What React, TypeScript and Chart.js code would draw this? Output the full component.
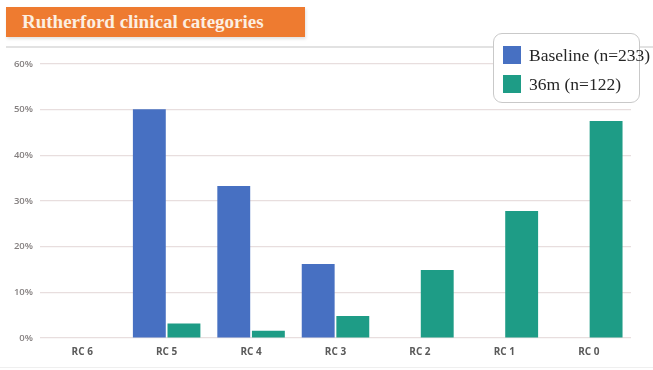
import React, { useEffect, useRef } from "react";
import { Chart, registerables } from "chart.js";

Chart.register(...registerables);

const categories = ["RC 6", "RC 5", "RC 4", "RC 3", "RC 2", "RC 1", "RC 0"];
const baselineValues = [0, 50.1, 33.3, 16.2, 0, 0, 0];
const month36Values = [0, 3.2, 1.6, 4.8, 14.9, 27.8, 47.5];
const seriesNames = ["Baseline (n=233)", "36m (n=122)"];
const seriesColors = ["#4770C2", "#1E9C86"];
const yTicks = [0, 10, 20, 30, 40, 50, 60];
const titleText = "Rutherford clinical categories";

export default function App() {
  const canvasRef = useRef<HTMLCanvasElement | null>(null);

  useEffect(() => {
    document.body.style.margin = "0";
    const canvas = canvasRef.current;
    if (!canvas) return;
    const chart = new Chart(canvas, {
      type: "bar",
      data: {
        labels: categories,
        datasets: [
          {
            label: seriesNames[0],
            data: baselineValues,
            backgroundColor: seriesColors[0],
            borderWidth: 0,
          },
          {
            label: seriesNames[1],
            data: month36Values,
            backgroundColor: seriesColors[1],
            borderWidth: 0,
          },
        ],
      },
      options: {
        animation: false,
        responsive: false,
        maintainAspectRatio: false,
        layout: { padding: { left: 0, right: 22, top: 14, bottom: 0 } },
        datasets: {
          bar: { categoryPercentage: 0.82, barPercentage: 0.95 },
        },
        plugins: {
          legend: { display: false },
          title: { display: false },
          tooltip: { enabled: false },
        },
        scales: {
          x: {
            grid: { display: false, drawTicks: false },
            border: { display: false },
            ticks: {
              padding: 8,
              color: "#5a5a5a",
              font: { family: "Open Sans", size: 10, weight: "bold" },
            },
            afterFit: (scale: any) => {
              scale.height = 32;
            },
          },
          y: {
            min: 0,
            max: 60,
            afterBuildTicks: (scale: any) => {
              scale.ticks = yTicks.map((v) => ({ value: v }));
            },
            grid: { color: "#E8DEDE", lineWidth: 1.2, drawTicks: false },
            border: { display: false },
            ticks: {
              padding: 7,
              color: "#858080",
              font: { family: "Open Sans", size: 9.5, weight: "600" },
              callback: (v: any) => `${v}%`,
            },
            afterFit: (scale: any) => {
              scale.width = 40;
            },
          },
        },
      },
    });
    return () => chart.destroy();
  }, []);

  return (
    <div
      style={{
        position: "fixed",
        left: 0,
        top: 0,
        width: 653,
        height: 370,
        background: "#ffffff",
        overflow: "hidden",
      }}
    >
      <div
        style={{
          position: "absolute",
          left: 6,
          top: 7,
          width: 299,
          height: 30,
          background: "#EE7B30",
          boxShadow: "1px 2px 3px rgba(0,0,0,0.12)",
        }}
      >
        <span
          style={{
            position: "absolute",
            left: 16,
            top: 4,
            fontFamily: "'Liberation Serif', 'Times New Roman', serif",
            fontWeight: "bold",
            fontSize: 19,
            lineHeight: "22px",
            color: "#FCEFE2",
            whiteSpace: "nowrap",
          }}
        >
          {titleText}
        </span>
      </div>
      <div
        style={{
          position: "absolute",
          left: 6,
          top: 46,
          width: 647,
          height: 1.5,
          background: "#E2E2E2",
        }}
      />
      <div
        style={{
          position: "absolute",
          left: 0,
          top: 367,
          width: 653,
          height: 1,
          background: "#EFEFEF",
        }}
      />
      <canvas
        ref={canvasRef}
        width={653}
        height={320}
        style={{ position: "absolute", left: 0, top: 50, width: 653, height: 320 }}
      />
      <div
        style={{
          position: "absolute",
          left: 493,
          top: 33,
          width: 147,
          height: 70,
          boxSizing: "border-box",
          border: "1px solid #C9C9C9",
          borderRadius: 9,
          background: "#ffffff",
        }}
      >
        {seriesNames.map((name, i) => (
          <div
            key={name}
            style={{
              position: "absolute",
              left: 9,
              top: 12 + i * 29,
              height: 18,
              display: "flex",
              alignItems: "center",
              whiteSpace: "nowrap",
            }}
          >
            <span
              style={{
                display: "inline-block",
                width: 18,
                height: 18,
                background: seriesColors[i],
                marginRight: 8,
              }}
            />
            <span
              style={{
                fontFamily: "'Liberation Serif', 'Times New Roman', serif",
                fontSize: 17.5,
                color: "#262626",
                lineHeight: "18px",
              }}
            >
              {name}
            </span>
          </div>
        ))}
      </div>
    </div>
  );
}
